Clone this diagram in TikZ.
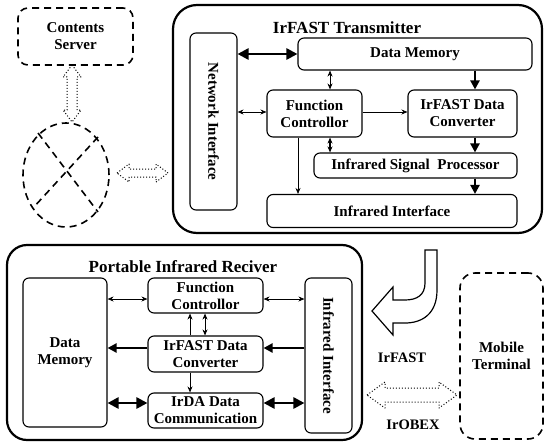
\documentclass[tikz,border=0pt]{standalone}
\usepackage{fontspec}
\setmainfont{Liberation Serif}
\usetikzlibrary{arrows.meta,shapes.geometric}
\begin{document}
\begin{tikzpicture}[x=1pt,y=-1pt,
  blk/.style={draw, line width=1.1pt, rounded corners=6pt, align=center, inner sep=0pt,
    font=\bfseries\fontsize{15}{17}\selectfont},
  outer/.style={draw, line width=2.2pt, rounded corners=24pt},
  ttl/.style={font=\bfseries\fontsize{17}{19}\selectfont},
  lbl/.style={font=\bfseries\fontsize{14.5}{16}\selectfont},
  dsh/.style={draw, line width=1.6pt, dash pattern=on 7pt off 5pt},
  thn/.style={line width=0.8pt, {Stealth[length=6pt,width=5pt]}-{Stealth[length=6pt,width=5pt]}},
  thnone/.style={line width=0.8pt, -{Stealth[length=6pt,width=5pt]}},
  thk/.style={line width=2.6pt, -{Triangle[length=9pt,width=9pt]}},
  thkd/.style={line width=2.6pt, {Triangle[length=11pt,width=11pt]}-{Triangle[length=11pt,width=11pt]}},
  hol/.style={draw, line width=1pt, dotted, line join=round},
]
\useasboundingbox (0,0) rectangle (545,441);

% ---------- left: server and network ----------
\node[dsh, rounded corners=10pt, minimum width=115, minimum height=57, align=center,
  font=\bfseries\fontsize{15}{17}\selectfont] (cs) at (75.5,36.5) {Contents\\Server};
\node[dsh, ellipse, minimum width=86, minimum height=104] (net) at (66,175) {};
\draw[dsh] (38,133) -- (98,212);
\draw[dsh] (98,137) -- (33,208);
\draw[hol] (72,65) -- (81,77) -- (77,77) -- (77,110) -- (81,110) -- (72,122)
  -- (63,110) -- (67,110) -- (67,77) -- (63,77) -- cycle;
\draw[hol] (117,173) -- (129,164) -- (129,169) -- (156,169) -- (156,164) -- (168,173)
  -- (156,182) -- (156,177) -- (129,177) -- (129,182) -- cycle;

% ---------- transmitter ----------
\draw[outer] (173,5) rectangle (542,233);
\node[ttl] (ttx) at (347,28) {IrFAST Transmitter};
\node[blk, rotate=-90, minimum width=177, minimum height=47] (ni) at (213.5,121.5) {Network Interface};
\node[blk, minimum width=234, minimum height=32] (dm) at (415,54) {Data Memory};
\node[blk, minimum width=95, minimum height=47] (fc) at (314.5,113.5) {Function\\Controllor};
\node[blk, minimum width=109, minimum height=47] (dc) at (462.5,113.5) {IrFAST Data\\Converter};
\node[blk, minimum width=203, minimum height=25] (isp) at (415.5,165.5) {Infrared Signal\ \ Processor};
\node[blk, minimum width=250, minimum height=33] (ii) at (392,211) {Infrared Interface};

\draw[thkd] (ni.north |- 0,54) -- (dm.west);
\draw[thn] (dm.south -| 330,0) -- (fc.north -| 330,0);
\draw[thk] (dm.south -| 475,0) -- (dc.north -| 475,0);
\draw[thn] (ni.north |- 0,112) -- (fc.west |- 0,112);
\draw[thnone] (fc.east |- 0,112) -- (dc.west |- 0,112);
\draw[thn, line width=1.2pt] (fc.south -| 330,0) -- (isp.north -| 330,0);
\draw[thk] (dc.south -| 475,0) -- (isp.north -| 475,0);
\draw[thnone] (fc.south -| 298,0) -- (ii.north -| 298,0);
\draw[thk] (isp.south -| 475,0) -- (ii.north -| 475,0);

% ---------- receiver ----------
\draw[outer, rounded corners=20pt] (7,245) rectangle (362,440);
\node[ttl] (trx) at (183,267) {Portable Infrared Reciver};
\node[blk, minimum width=84, minimum height=149] (rdm) at (65,352.5) {Data\\Memory};
\node[blk, minimum width=115, minimum height=35] (rfc) at (205.5,295.5) {Function\\Controllor};
\node[blk, minimum width=115, minimum height=36] (rdc) at (205.5,354) {IrFAST Data\\Converter};
\node[blk, minimum width=115, minimum height=35] (rda) at (205.5,410.5) {IrDA Data\\Communication};
\node[blk, rotate=-90, minimum width=155, minimum height=47] (rii) at (328.5,355.5) {Infrared Interface};

\draw[thn] (rdm.east |- 0,299) -- (rfc.west |- 0,299);
\draw[thn] (rfc.east |- 0,299) -- (rii.south |- 0,299);
\draw[thnone] (rdc.north -| 190,0) -- (rfc.south -| 190,0);
\draw[thn] (rfc.south -| 205,0) -- (rdc.north -| 205,0);
\draw[thk] (rdc.west |- 0,348) -- (rdm.east |- 0,348);
\draw[thk] (rii.south |- 0,348) -- (rdc.east |- 0,348);
\draw[thnone] (rdc.south -| 190,0) -- (rda.north -| 190,0);
\draw[thkd] (rdm.east |- 0,403) -- (rda.west |- 0,403);
\draw[thkd] (rda.east |- 0,403) -- (rii.south |- 0,403);

% ---------- mobile terminal ----------
\node[dsh, rounded corners=15pt, minimum width=83, minimum height=166, align=center,
  font=\bfseries\fontsize{15}{17}\selectfont] (mt) at (501.5,356) {Mobile\\Terminal};

% IrFAST curved hollow arrow
\draw[line width=1.2pt, line join=miter] (425,250) -- (437,250) -- (437,290)
  .. controls (437,314) and (422,323) .. (405,323) -- (393,323) -- (393,335)
  -- (372,311) -- (393,287) -- (393,300) -- (405,300)
  .. controls (417,300) and (425,295) .. (425,283) -- cycle;
\node[lbl] (lirfast) at (402,358) {IrFAST};

% IrOBEX dotted hollow arrow
\draw[hol] (367,395) -- (385,382) -- (385,388) -- (439,388) -- (439,382) -- (457,395)
  -- (439,408) -- (439,402) -- (385,402) -- (385,408) -- cycle;
\node[lbl] (lirobex) at (413,425) {IrOBEX};
\end{tikzpicture}
\end{document}
